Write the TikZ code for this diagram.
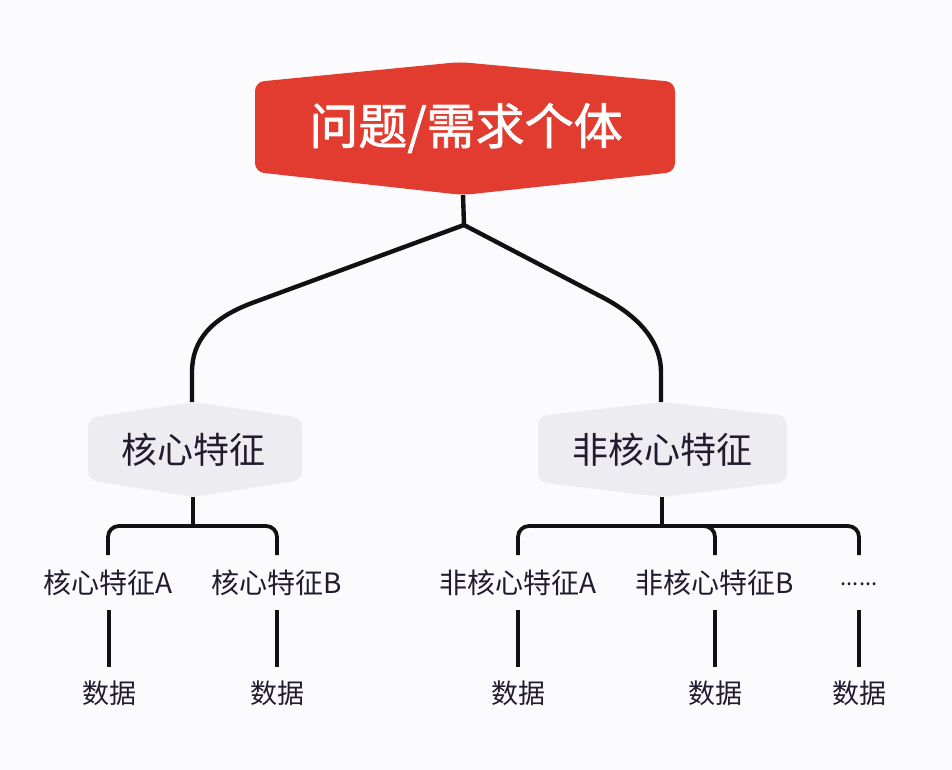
\documentclass[tikz,border=0pt]{standalone}
\usepackage{fontspec}
\setmainfont{Noto Sans CJK SC}
\newfontfamily\topfont{Noto Sans CJK SC}[FakeBold=1.4]
\definecolor{bg}{HTML}{FBFBFD}
\definecolor{topred}{HTML}{E23B2F}
\definecolor{nodegray}{HTML}{EDEDF1}
\definecolor{ink}{HTML}{221B30}
\definecolor{wire}{HTML}{111015}
\begin{document}
\begin{tikzpicture}[x=1pt,y=-1pt,
  thickwire/.style={draw=wire,line width=4.4pt,line join=round},
  midwire/.style={draw=wire,line width=3.8pt,rounded corners=11pt},
  leafwire/.style={draw=wire,line width=3.4pt},
  toptext/.style={text=white,font=\topfont\fontsize{49}{56}\selectfont},
  graytext/.style={text=ink,font=\fontsize{36}{40}\selectfont},
  leaftext/.style={text=ink,font=\fontsize{28}{32}\selectfont},
  datatext/.style={text=ink,font=\fontsize{27}{30}\selectfont}]
\fill[bg] (0,0) rectangle (952,770);
\useasboundingbox (0,0) rectangle (952,770);
% coordinates
\coordinate (topbot) at (463,195);
\coordinate (J) at (464,225);
\coordinate (Ltop) at (192,402);
\coordinate (Rtop) at (661,402);
\coordinate (Lbot) at (193,497);
\coordinate (Rbot) at (662,497);
\coordinate (Lbar) at (193,526);
\coordinate (Rbar) at (662,526);
% top connectors
\draw[thickwire] (topbot) -- (J);
\draw[thickwire] (J) -- (252,303) .. controls (212,318) and (192,340) .. (192,372) -- (Ltop);
\draw[thickwire] (J) -- (600,296) .. controls (641,317) and (661,343) .. (661,372) -- (Rtop);
% shapes
\fill[topred,rounded corners=9pt] (255,82) -- (460,62) -- (675,82) -- (675,172) -- (463,195) -- (255,172) -- cycle;
\fill[nodegray,rounded corners=9pt] (88,418) -- (193,402) -- (302,418) -- (302,480) -- (193,497) -- (88,480) -- cycle;
\fill[nodegray,rounded corners=9pt] (538,416) -- (662,402) -- (787,416) -- (787,482) -- (662,497) -- (538,482) -- cycle;
% text nodes
\node[toptext] (top) at (466,128) {问题/需求个体};
\node[graytext] (core) at (193,450) {核心特征};
\node[graytext] (noncore) at (662,450) {非核心特征};
\node[leaftext] (ca) at (108,583) {核心特征A};
\node[leaftext] (cb) at (277,583) {核心特征B};
\node[leaftext] (na) at (518,583) {非核心特征A};
\node[leaftext] (nb) at (715,583) {非核心特征B};
\node[leaftext,font=\fontsize{22}{26}\selectfont] (nc) at (859,584) {......};
\node[datatext] (da) at (109,693) {数据};
\node[datatext] (db) at (277,693) {数据};
\node[datatext] (dna) at (518,693) {数据};
\node[datatext] (dnb) at (715,693) {数据};
\node[datatext] (dnc) at (859,693) {数据};
% middle connectors
\draw[midwire] (Lbot) -- (Lbar);
\draw[midwire] (ca |- 0,555) -- (ca |- Lbar) -- (cb |- Lbar) -- (cb |- 0,555);
\draw[midwire] (Rbot) -- (Rbar);
\draw[midwire] (na |- 0,555) -- (na |- Rbar) -- (Rbar);
\draw[midwire] (Rbar) -- (nb |- Rbar) -- (nb |- 0,555);
\draw[midwire] (Rbar) -- (nc |- Rbar) -- (nc |- 0,555);
% leaf connectors
\draw[leafwire] (da |- 0,610) -- (da |- 0,667);
\draw[leafwire] (db |- 0,610) -- (db |- 0,667);
\draw[leafwire] (dna |- 0,610) -- (dna |- 0,667);
\draw[leafwire] (dnb |- 0,610) -- (dnb |- 0,667);
\draw[leafwire] (dnc |- 0,610) -- (dnc |- 0,667);
\end{tikzpicture}
\end{document}
